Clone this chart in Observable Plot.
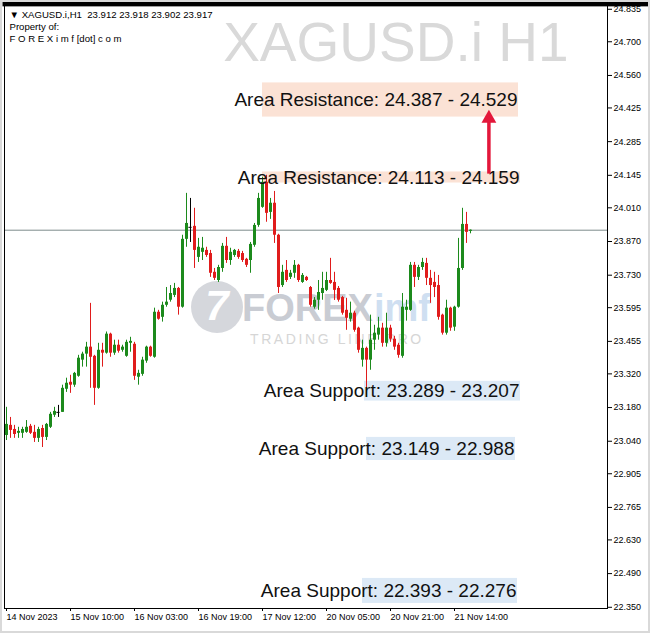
<!DOCTYPE html>
<html><head><meta charset="utf-8">
<script src="https://cdn.jsdelivr.net/npm/d3@7"></script>
<script src="https://cdn.jsdelivr.net/npm/@observablehq/plot@0.6"></script>
<style>
html,body{margin:0;padding:0;background:#fff;}
#chart{width:650px;height:633px;}
svg{display:block;outline:2px solid #d9d9d9;outline-offset:-2px;}
</style></head><body><div id="chart"></div>
<script>
// ---- data (XAGUSD.i H1, one entry per bar) ----
const opens = [23.064,23.106,23.089,23.073,23.073,23.077,23.102,23.077,23.052,23.093,23.056,23.098,23.148,23.160,23.160,23.256,23.285,23.273,23.310,23.377,
23.402,23.431,23.393,23.260,23.418,23.406,23.485,23.406,23.439,23.418,23.393,23.447,23.443,23.306,23.318,23.373,23.431,23.389,23.576,23.555,
23.605,23.626,23.646,23.675,23.597,23.879,23.929,23.933,23.804,23.825,23.833,23.820,23.742,23.708,23.758,23.850,23.791,23.812,23.829,23.820,
23.796,23.791,23.854,23.937,24.012,24.116,23.991,24.029,23.896,23.687,23.750,23.721,23.738,23.771,23.700,23.721,23.679,23.597,23.626,23.654,
23.667,23.708,23.700,23.675,23.637,23.584,23.547,23.572,23.510,23.377,23.426,23.377,23.460,23.481,23.510,23.447,23.510,23.464,23.439,23.393,
23.584,23.584,23.771,23.721,23.762,23.779,23.717,23.700,23.687,23.564,23.489,23.593,23.514,23.597,23.758,23.941,23.912];
const highs = [23.181,23.139,23.106,23.098,23.098,23.126,23.110,23.106,23.098,23.106,23.114,23.160,23.181,23.189,23.273,23.302,23.314,23.326,23.397,23.410,
23.451,23.613,23.397,23.447,23.447,23.494,23.489,23.460,23.460,23.439,23.460,23.472,23.451,23.335,23.389,23.435,23.435,23.593,23.584,23.618,
23.679,23.687,23.696,23.679,23.896,24.070,24.049,24.008,23.883,23.887,23.846,23.833,23.758,23.771,23.862,23.887,23.842,23.837,23.837,23.829,
23.800,23.866,23.945,24.070,24.137,24.145,24.049,24.078,23.900,23.771,23.791,23.750,23.791,23.775,23.737,23.725,23.683,23.637,23.708,23.742,
23.742,23.800,23.742,23.683,23.642,23.634,23.618,23.580,23.514,23.460,23.431,23.564,23.522,23.555,23.530,23.572,23.522,23.476,23.447,23.654,
23.626,23.783,23.783,23.771,23.800,23.800,23.750,23.742,23.729,23.568,23.626,23.597,23.601,23.883,24.008,23.991,23.918];
const lows = [23.043,23.052,23.052,23.052,23.052,23.073,23.068,23.035,23.035,23.014,23.043,23.093,23.139,23.139,23.160,23.243,23.239,23.264,23.306,23.348,
23.348,23.260,23.189,23.256,23.348,23.402,23.389,23.397,23.406,23.410,23.389,23.410,23.293,23.273,23.310,23.364,23.389,23.385,23.543,23.535,
23.597,23.618,23.637,23.564,23.593,23.846,23.866,23.758,23.783,23.791,23.804,23.721,23.708,23.700,23.742,23.779,23.771,23.804,23.796,23.783,
23.762,23.738,23.846,23.929,24.008,23.950,23.962,23.862,23.654,23.679,23.700,23.712,23.717,23.700,23.696,23.704,23.597,23.589,23.584,23.626,
23.662,23.692,23.625,23.618,23.564,23.501,23.535,23.493,23.406,23.348,23.223,23.335,23.418,23.460,23.431,23.431,23.451,23.418,23.385,23.385,
23.539,23.580,23.679,23.708,23.750,23.687,23.613,23.637,23.543,23.481,23.481,23.497,23.497,23.593,23.750,23.862,23.902];
const closes = [23.110,23.085,23.068,23.081,23.089,23.098,23.073,23.052,23.089,23.056,23.110,23.152,23.164,23.160,23.260,23.281,23.273,23.322,23.385,23.402,
23.431,23.389,23.260,23.418,23.406,23.485,23.406,23.439,23.414,23.431,23.451,23.455,23.310,23.322,23.377,23.431,23.393,23.576,23.547,23.605,
23.618,23.654,23.675,23.597,23.879,23.945,23.929,23.833,23.846,23.842,23.812,23.738,23.717,23.762,23.850,23.791,23.825,23.833,23.804,23.791,
23.771,23.858,23.937,24.049,24.116,23.987,24.029,23.896,23.679,23.742,23.708,23.738,23.771,23.708,23.729,23.708,23.605,23.626,23.658,23.675,
23.708,23.696,23.667,23.626,23.572,23.551,23.572,23.501,23.418,23.426,23.377,23.460,23.489,23.510,23.447,23.510,23.464,23.431,23.397,23.597,
23.597,23.771,23.721,23.762,23.783,23.717,23.687,23.679,23.555,23.489,23.593,23.510,23.597,23.758,23.941,23.908,23.917];

const timeLabels = ["14 Nov 2023","15 Nov 10:00","16 Nov 03:00","16 Nov 19:00","17 Nov 12:00","20 Nov 05:00","20 Nov 21:00","21 Nov 14:00"];
const timeLabelBars = [0,16,32,48,64,80,96,112];
const priceTicks = [22.350,22.490,22.630,22.765,22.905,23.040,23.180,23.320,23.455,23.595,23.730,23.870,24.010,24.145,24.285,24.425,24.560,24.700,24.835];

const zoneLabels = ["Area Resistance: 24.387 - 24.529","Area Resistance: 24.113 - 24.159","Area Support: 23.289 - 23.207","Area Support: 23.149 - 22.988","Area Support: 22.393 - 22.276"];
const zoneKinds = ["resistance","resistance","support","support","support"];
const zoneTops = [24.529,24.159,23.289,23.056,22.470];
const zoneBottoms = [24.387,24.113,23.207,22.960,22.366];
const zoneStartBars = [64,64,89.5,90,89];
const zoneEndBars = [128,128.5,128.5,127.25,127.75];

const lastBar = {symbol:"XAGUSD.i", tf:"H1", open:23.912, high:23.918, low:23.902, close:23.917};
const arrowBar = 120.6, arrowFrom = 24.150, arrowTo = 24.415;

// ---- build ----
const candles = opens.map((o, i) => ({i, o, h: highs[i], l: lows[i], c: closes[i]}));
const dojis = candles.filter(d => d.o === d.c);
const col = d => d.c > d.o ? "#1c8a1c" : d.c < d.o ? "#e01c1c" : "#000000";
const zones = zoneLabels.map((label, k) => ({label, kind: zoneKinds[k], top: zoneTops[k], bottom: zoneBottoms[k], start: zoneStartBars[k], end: zoneEndBars[k]}));
const zoneFill = {resistance: "#fbe2d5", support: "#dce9f6"};
const fmt = d => d.toFixed(3);

const chart = Plot.plot({
  width: 650, height: 633,
  marginTop: 3, marginRight: 43, marginBottom: 25, marginLeft: 4,
  style: {fontFamily: "'Liberation Sans', Arial, sans-serif", background: "#ffffff", color: "#000"},
  x: {type: "linear", domain: [-0.5, 150.25], axis: null},
  y: {domain: [22.345, 24.859], axis: null},
  marks: [
    // watermark
    Plot.dot([0], {frameAnchor: "middle", dx: -89, dy: 1, r: 26, fill: "#d5d7dc", stroke: "none"}),
    Plot.text(["7"], {frameAnchor: "middle", dx: -89, dy: 1, fontSize: 42, fontWeight: "bold", fontStyle: "italic", fill: "#ffffff"}),
    Plot.text(["FOREX"], {frameAnchor: "middle", dx: -64, dy: 15, textAnchor: "start", lineAnchor: "bottom", fontSize: 38, fontWeight: "bold", fill: "#c9ccd3"}),
    Plot.text(["imf"], {frameAnchor: "middle", dx: 68, dy: 15, textAnchor: "start", lineAnchor: "bottom", fontSize: 38, fontWeight: "bold", fill: "#cfdff1"}),
    Plot.text(["TRADING LINE PRO"], {frameAnchor: "middle", dx: -56, dy: 38, textAnchor: "start", lineAnchor: "bottom", fontSize: 14, fill: "#d6d6d6", className: "wm-tag"}),
    // title
    Plot.text([`${lastBar.symbol} ${lastBar.tf}`], {frameAnchor: "top-right", dx: -39, dy: 57, textAnchor: "end", lineAnchor: "bottom", fontSize: 55, fill: "#d9d9d9"}),
    // header
    Plot.text([`▼ ${lastBar.symbol},${lastBar.tf}  ${fmt(lastBar.open)} ${fmt(lastBar.high)} ${fmt(lastBar.low)} ${fmt(lastBar.close)}`], {frameAnchor: "top-left", dx: 5, dy: 14, textAnchor: "start", lineAnchor: "bottom", fontSize: 9.6, fill: "#000"}),
    Plot.text(["Property of:"], {frameAnchor: "top-left", dx: 5, dy: 26, textAnchor: "start", lineAnchor: "bottom", fontSize: 9.6, fill: "#000"}),
    Plot.text(["F O R E X i m f [dot] c o m"], {frameAnchor: "top-left", dx: 5, dy: 38, textAnchor: "start", lineAnchor: "bottom", fontSize: 9.6, fill: "#000"}),
    // zones
    Plot.rect(zones, {x1: "start", x2: "end", y1: "bottom", y2: "top", fill: d => zoneFill[d.kind]}),
    // current price line
    Plot.ruleY([lastBar.close], {stroke: "#7d8b8b", strokeWidth: 1}),
    // candles
    Plot.ruleX(candles, {x: "i", y1: "l", y2: "h", stroke: col, strokeWidth: 1}),
    Plot.ruleX(candles, {x: "i", y1: "o", y2: "c", stroke: col, strokeWidth: 3}),
    Plot.ruleY(dojis, {y: "o", x1: d => d.i - 0.4, x2: d => d.i + 0.4, stroke: "#000"}),
    // zone labels
    Plot.text(zones, {x: "end", y: d => (d.top + d.bottom) / 2, text: "label", textAnchor: "end", dx: -1, fontSize: 19, fill: "#111"}),
    // arrow
    Plot.ruleX([0], {x: () => arrowBar, y1: () => arrowFrom, y2: () => arrowTo - 0.03, stroke: "#e3173a", strokeWidth: 3.5}),
    Plot.dot([0], {x: () => arrowBar, y: () => arrowTo, dy: 8, symbol: "triangle", r: 5.5, fill: "#e3173a", stroke: "none"}),
    // axes
    Plot.axisY(priceTicks, {anchor: "right", tickSize: 4, tickPadding: 2, tickFormat: fmt, fontSize: 9, label: null, fill: "#000"}),
    Plot.axisX(timeLabelBars, {anchor: "bottom", tickSize: 3, tickPadding: 2, tickFormat: d => timeLabels[timeLabelBars.indexOf(d)], textAnchor: "start", fontSize: 9, label: null, fill: "#000"}),
    // price tag
    Plot.text([lastBar.close], {y: d => d, frameAnchor: "right", dx: 5, textAnchor: "start", text: fmt, fontSize: 9, fill: "#ffffff", className: "price-tag"}),
    Plot.frame({stroke: "#000"})
  ]
});
document.getElementById("chart").appendChild(chart);
d3.select(chart).selectAll(".wm-tag text").attr("letter-spacing", 2.6);
d3.select(chart).selectAll(".price-tag text").each(function() {
  const b = this.getBBox();
  d3.select(this.parentNode).insert("rect", "text")
    .attr("x", b.x - 3).attr("y", b.y - 1).attr("width", 650 - (b.x - 3) - 2).attr("height", b.height + 2)
    .attr("fill", "#000");
});
</script></body></html>
